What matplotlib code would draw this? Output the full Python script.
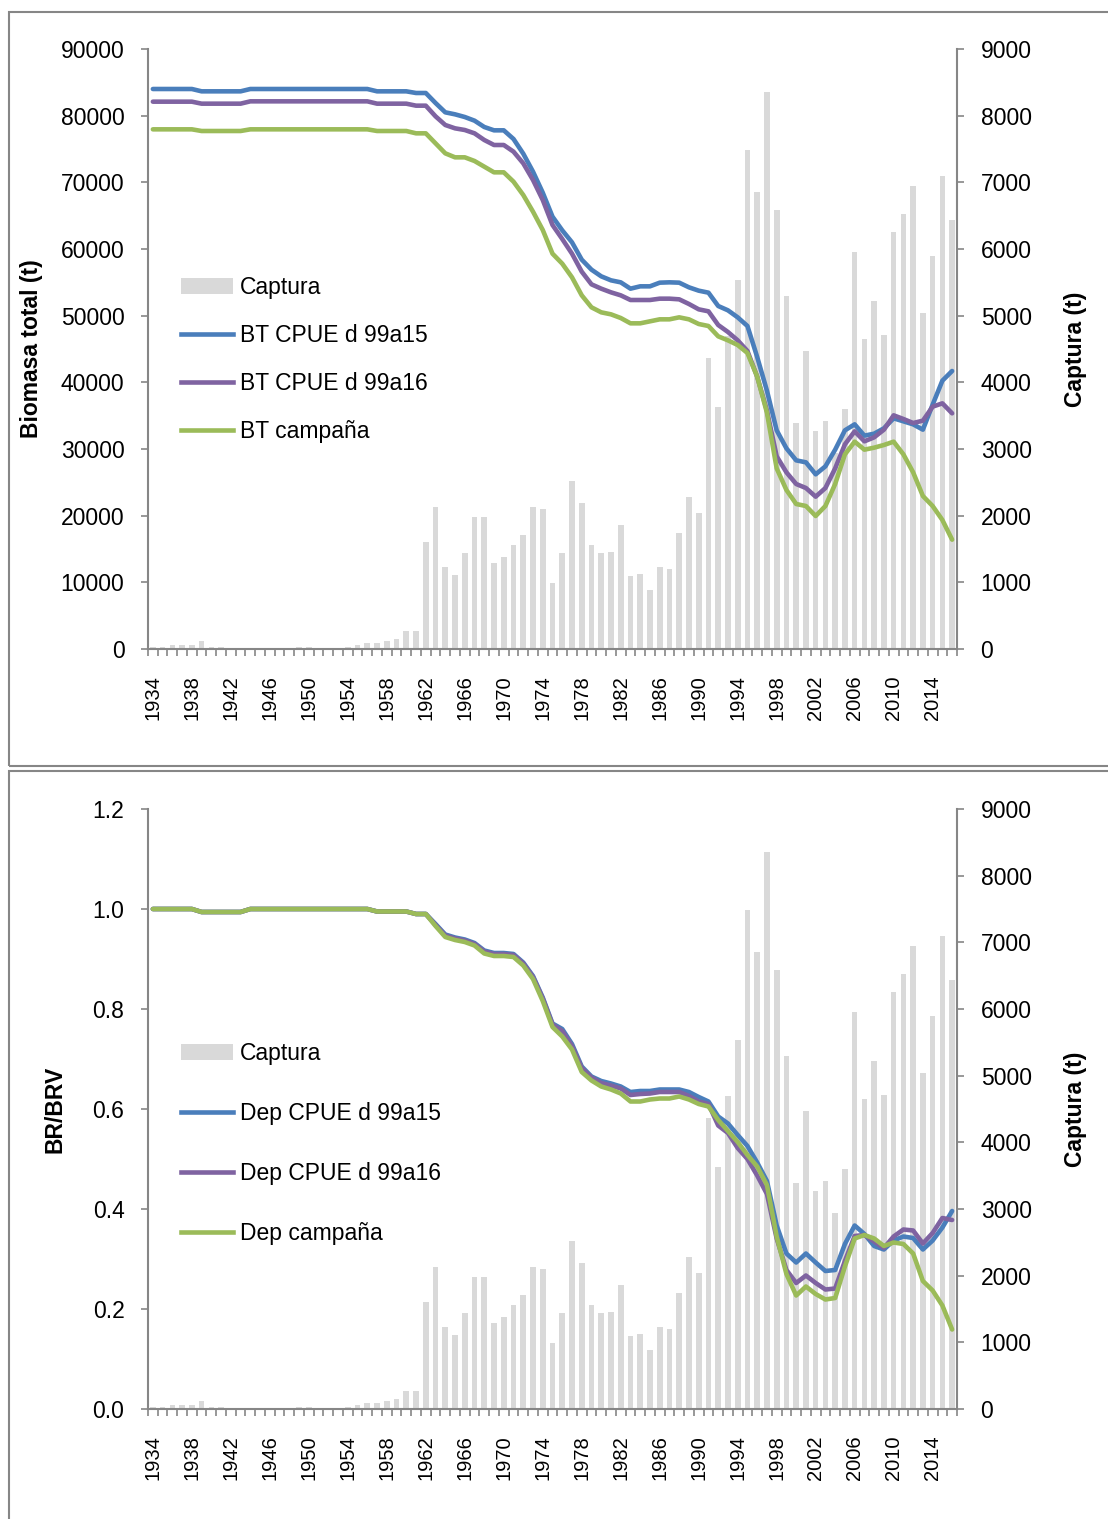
import numpy as np
import matplotlib.pyplot as plt
from matplotlib.patches import Rectangle, Patch
from matplotlib.lines import Line2D

plt.rcParams['font.family'] = ['Liberation Sans', 'DejaVu Sans']

years = list(range(1934, 2017))

# captura anual (t)
captura = [30, 30, 60, 60, 60, 120, 30, 30, 0, 0, 0, 0, 0, 0, 0, 30, 30, 0, 0, 0,
           30, 60, 90, 90, 120, 150, 270, 270, 1600, 2130, 1230, 1110, 1440, 1980,
           1980, 1290, 1380, 1560, 1710, 2130, 2100, 990, 1440, 2520, 2190, 1560,
           1440, 1460, 1860, 1100, 1130, 880, 1230, 1200, 1740, 2280, 2040, 4360,
           3630, 4700, 5530, 7480, 6850, 8360, 6580, 5290, 3390, 4470, 3270, 3420,
           2940, 3600, 5950, 4650, 5220, 4710, 6250, 6520, 6940, 5040, 5890, 7090,
           6430]

# biomasa total (t)
bt_cpue_15 = ([84000] * 5 + [83650] * 5 + [84000] * 13 + [83650] * 4 + [83400] * 2 +
              [81900, 80500, 80200, 79800, 79250, 78300, 77800, 77800, 76500, 74300,
               71600, 68450, 64850, 62800, 61000, 58400, 56900, 55900, 55300, 55000,
               54050, 54400, 54400, 54950, 55000, 54950, 54250, 53750, 53450, 51450,
               50800, 49750, 48450, 43800, 38750, 32800, 30100, 28300, 28000, 26200,
               27400, 29900, 32800, 33700, 32000, 32300, 33100, 34600, 34150, 33700,
               32900, 36650, 40250, 41700])
bt_cpue_16 = ([82100] * 5 + [81800] * 5 + [82150] * 13 + [81800] * 4 + [81500] * 2 +
              [79900, 78600, 78100, 77850, 77350, 76350, 75600, 75600, 74600, 72850,
               70350, 67350, 63600, 61500, 59300, 56600, 54700, 54050, 53500, 53050,
               52350, 52350, 52350, 52550, 52550, 52450, 51750, 50950, 50650, 48600,
               47550, 46300, 44700, 40850, 35750, 28900, 26500, 24750, 24150, 22850,
               24150, 27100, 30700, 32650, 31150, 31750, 32900, 35050, 34500, 33900,
               34250, 36350, 36850, 35350])
bt_campana = ([77950] * 5 + [77700] * 5 + [77950] * 13 + [77700] * 4 + [77350] * 2 +
              [75850, 74350, 73750, 73750, 73200, 72350, 71500, 71500, 70100, 68100,
               65600, 62850, 59300, 57800, 55750, 53050, 51250, 50500, 50200, 49650,
               48850, 48850, 49150, 49450, 49450, 49750, 49450, 48750, 48450, 46900,
               46300, 45600, 44400, 40850, 35450, 27100, 23850, 21750, 21450, 19950,
               21450, 24750, 29200, 31100, 29900, 30200, 30600, 31100, 29200, 26500,
               22950, 21450, 19350, 16400])

# BR/BRV
dep_inicio = [1.0] * 5 + [0.994] * 5 + [1.0] * 13 + [0.995] * 4 + [0.990] * 2
dep_cpue_15 = dep_inicio + [
    0.970, 0.949, 0.943, 0.939, 0.932, 0.917, 0.912, 0.912, 0.910, 0.893, 0.866,
    0.823, 0.771, 0.760, 0.730, 0.685, 0.665, 0.656, 0.651, 0.645, 0.634, 0.636,
    0.636, 0.639, 0.639, 0.639, 0.634, 0.624, 0.615, 0.585, 0.571, 0.548, 0.526,
    0.493, 0.456, 0.367, 0.311, 0.293, 0.311, 0.293, 0.276, 0.278, 0.330, 0.367,
    0.350, 0.326, 0.319, 0.337, 0.345, 0.342, 0.319, 0.337, 0.363, 0.396]
dep_cpue_16 = dep_inicio + [
    0.968, 0.947, 0.941, 0.937, 0.930, 0.915, 0.910, 0.910, 0.908, 0.891, 0.864,
    0.821, 0.769, 0.756, 0.726, 0.682, 0.663, 0.652, 0.647, 0.641, 0.628, 0.630,
    0.631, 0.634, 0.634, 0.634, 0.626, 0.615, 0.610, 0.567, 0.552, 0.522, 0.500,
    0.467, 0.430, 0.341, 0.278, 0.252, 0.267, 0.252, 0.239, 0.241, 0.296, 0.346,
    0.348, 0.335, 0.322, 0.345, 0.359, 0.357, 0.331, 0.352, 0.382, 0.378]
dep_campana = dep_inicio + [
    0.966, 0.944, 0.938, 0.934, 0.927, 0.911, 0.906, 0.906, 0.904, 0.887, 0.860,
    0.816, 0.764, 0.745, 0.719, 0.674, 0.657, 0.645, 0.639, 0.631, 0.615, 0.615,
    0.619, 0.621, 0.621, 0.625, 0.619, 0.610, 0.605, 0.578, 0.556, 0.534, 0.508,
    0.485, 0.448, 0.345, 0.270, 0.227, 0.245, 0.230, 0.219, 0.222, 0.285, 0.341,
    0.348, 0.341, 0.326, 0.333, 0.330, 0.311, 0.256, 0.237, 0.207, 0.159]

W, H = 1108, 1519
GRIS = '#868686'
BARRA = '#d9d9d9'
COLORES = ['#4a7ebb', '#7f63a1', '#9bbb59']
FS = 16.5

fig = plt.figure(figsize=(W / 100, H / 100), dpi=100)

# marcos de los dos graficos
fig.add_artist(Rectangle((9 / W, 1 - 766 / H), 1.2, (766 - 12) / H,
                         transform=fig.transFigure, fill=False, ec=GRIS, lw=1.5))
fig.add_artist(Rectangle((9 / W, -0.2), 1.2, 0.2 + 1 - 771 / H,
                         transform=fig.transFigure, fill=False, ec=GRIS, lw=1.5))


def panel(top_px, series, etiquetas, ymax, ystep, fmt, ylabel, ylabel_x,
          leg_y, leg_spacing):
    ax = fig.add_axes([148 / W, 1 - (top_px + 600) / H, 809 / W, 600 / H])
    ax2 = ax.twinx()
    ax.set_zorder(ax2.get_zorder() + 1)
    ax.patch.set_visible(False)

    x = np.arange(len(years))
    ax2.bar(x, captura, width=0.58, color=BARRA, zorder=1)
    for vals, c in zip(series, COLORES):
        ax.plot(x, vals, color=c, lw=3.3, solid_joinstyle='round',
                solid_capstyle='round')

    ax.set_xlim(-0.5, len(years) - 0.5)
    ax.set_ylim(0, ymax)
    ax.set_yticks(np.arange(0, ymax + ystep / 2, ystep))
    ax.set_yticklabels([fmt.format(v) for v in np.arange(0, ymax + ystep / 2, ystep)])
    ax2.set_ylim(0, 9000)
    ax2.set_yticks(np.arange(0, 9001, 1000))

    ax.set_xticks(x[::4])
    ax.set_xticklabels([str(y) for y in years[::4]], rotation=90, fontsize=14.5)
    ax.set_xticks(np.arange(-0.5, len(years), 1), minor=True)
    ax.tick_params(axis='x', which='major', length=0, pad=19)
    ax.tick_params(axis='x', which='minor', length=5, width=1.2, color=GRIS,
                   direction='out')
    ax.tick_params(axis='y', length=5, width=1.2, color=GRIS, direction='out',
                   labelsize=FS, pad=12)
    ax2.tick_params(axis='y', length=5, width=1.2, color=GRIS, direction='out',
                    labelsize=FS, pad=12)

    for s in ('top', 'right'):
        ax.spines[s].set_visible(False)
    for s in ('top', 'left', 'bottom'):
        ax2.spines[s].set_visible(False)
    for a in (ax, ax2):
        for s in a.spines.values():
            s.set_color(GRIS)
            s.set_linewidth(1.5)

    ax.set_ylabel(ylabel, fontsize=FS, fontweight='bold', va='center')
    ax.yaxis.set_label_coords(ylabel_x, 0.5)
    ax2.set_ylabel('Captura (t)', fontsize=FS, fontweight='bold', va='center',
                   rotation=90)
    ax2.yaxis.set_label_coords(1.146, 0.5)

    handles = [Patch(fc=BARRA, ec='none')] + [
        Line2D([], [], color=c, lw=3.3) for c in COLORES]
    ax.legend(handles, etiquetas, loc='upper left', bbox_to_anchor=(0.041, leg_y),
              frameon=False, fontsize=FS, handlelength=2.27, handletextpad=0.3,
              labelspacing=leg_spacing, borderpad=0, borderaxespad=0)
    return ax


panel(49, [bt_cpue_15, bt_cpue_16, bt_campana],
      ['Captura', 'BT CPUE d 99a15', 'BT CPUE d 99a16', 'BT campaña'],
      90000, 10000, '{:.0f}', 'Biomasa total (t)', -0.1446, 0.622, 1.1)

panel(809, [dep_cpue_15, dep_cpue_16, dep_campana],
      ['Captura', 'Dep CPUE d 99a15', 'Dep CPUE d 99a16', 'Dep campaña'],
      1.2, 0.2, '{:.1f}', 'BR/BRV', -0.115, 0.612, 1.62)

fig.savefig('out.png', dpi=100)
